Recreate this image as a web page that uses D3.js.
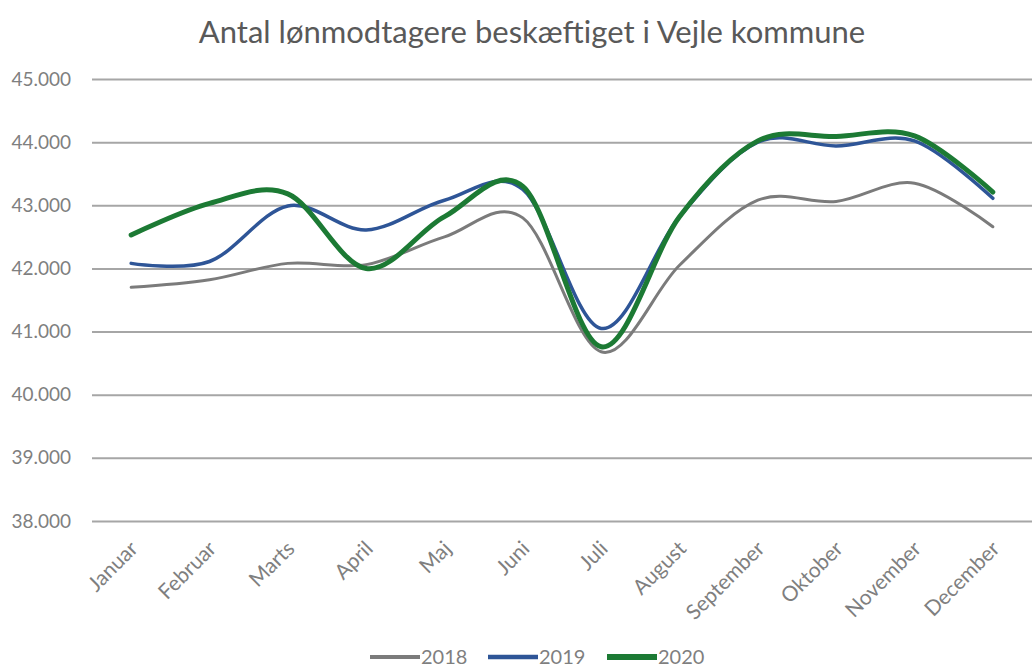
<!DOCTYPE html>
<html>
<head>
<meta charset="utf-8">
<script src="https://cdn.jsdelivr.net/npm/d3@7"></script>
<style>
  body { margin: 0; background: #fff; }
  svg { display: block; font-family: Lato, "Open Sans", sans-serif; }
</style>
</head>
<body>
<svg id="chart" width="1034" height="668"></svg>
<script>
const title = "Antal lønmodtagere beskæftiget i Vejle kommune";
const months = ["Januar","Februar","Marts","April","Maj","Juni","Juli","August","September","Oktober","November","December"];
const yTicks = [38000, 39000, 40000, 41000, 42000, 43000, 44000, 45000];
const seriesNames = ["2018", "2019", "2020"];
const values2018 = [41700, 41820, 42080, 42060, 42500, 42800, 40680, 42050, 43080, 43060, 43350, 42660];
const values2019 = [42080, 42110, 42990, 42610, 43080, 43250, 41050, 42820, 44000, 43940, 44020, 43110];
const values2020 = [42530, 43030, 43180, 42000, 42820, 43300, 40760, 42820, 44020, 44090, 44100, 43210];
const seriesColors = ["#7b7b7b", "#2e5597", "#1c7a34"];
const seriesWidths = [3, 3.5, 5];

const svg = d3.select("#chart");
const margin = { left: 92, right: 2, top: 79, bottom: 147 };
const W = 1034, H = 668;

const x = d3.scaleBand().domain(months).range([margin.left, W - margin.right]).paddingInner(0).paddingOuter(0);
const y = d3.scaleLinear().domain([38000, 45000]).range([H - margin.bottom, margin.top]);

const fmt = v => d3.format(",")(v).replace(/,/g, ".");

// title
svg.append("text")
  .attr("x", 532).attr("y", 43)
  .attr("text-anchor", "middle")
  .attr("fill", "#595959")
  .attr("font-size", 31)
  .text(title);

// gridlines + y labels
const yAxis = d3.axisLeft(y).tickValues(yTicks).tickSize(-(W - margin.left - margin.right)).tickFormat(fmt).tickPadding(21);
const gy = svg.append("g").attr("transform", `translate(${margin.left},0)`).call(yAxis);
gy.select(".domain").remove();
gy.selectAll(".tick line").attr("stroke", "#a6a6a6").attr("stroke-width", 2);
gy.selectAll(".tick text").attr("fill", "#7f7f7f").attr("font-size", 19).attr("font-family", "Lato, sans-serif").attr("dy", "0.32em");

// x axis labels
const xAxis = d3.axisBottom(x).tickSize(0).tickPadding(0);
const gx = svg.append("g").attr("transform", `translate(0,${H - margin.bottom})`).call(xAxis);
gx.select(".domain").remove();
gx.selectAll(".tick text")
  .attr("fill", "#7f7f7f")
  .attr("font-size", 21)
  .attr("font-family", "Lato, sans-serif")
  .attr("text-anchor", "end")
  .attr("dy", 0)
  .attr("transform", "translate(8,29) rotate(-45)");

// lines
const allSeries = [values2018, values2019, values2020];
const line = d3.line()
  .x((d, i) => x(months[i]) + x.bandwidth() / 2)
  .y(d => y(d))
  .curve(d3.curveCardinal.tension(0));

allSeries.forEach((vals, k) => {
  svg.append("path")
    .datum(vals)
    .attr("fill", "none")
    .attr("stroke", seriesColors[k])
    .attr("stroke-width", seriesWidths[k])
    .attr("stroke-linecap", "round")
    .attr("d", line);
});

// legend
const legendStarts = [370, 488, 607];
const lg = svg.append("g");
seriesNames.forEach((name, k) => {
  const g = lg.append("g").attr("transform", `translate(${legendStarts[k]},657)`);
  g.append("line").attr("x1", 0).attr("x2", 50).attr("y1", 0).attr("y2", 0)
    .attr("stroke", seriesColors[k]).attr("stroke-width", seriesWidths[k] + 1);
  g.append("text").attr("x", 51).attr("y", 0).attr("dy", "0.35em")
    .attr("fill", "#7f7f7f").attr("font-size", 20).text(name);
});
</script>
</body>
</html>
